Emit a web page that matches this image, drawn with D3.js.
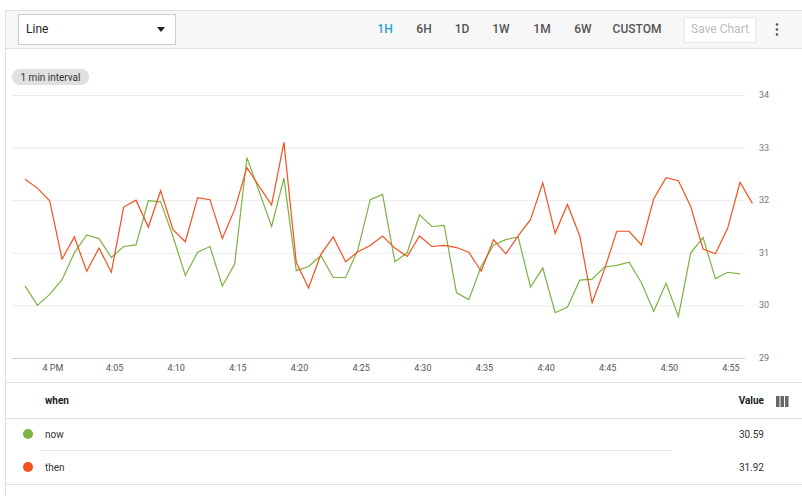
<!DOCTYPE html>
<html><head><meta charset="utf-8">
<script src="https://cdn.jsdelivr.net/npm/d3@7"></script>
<style>body{margin:0;background:#fff;font-family:Roboto,"Liberation Sans",sans-serif}</style>
</head><body><svg id="c" width="802" height="496"></svg>
<script>
const nowVals=[30.37,30.0,30.21,30.49,31.0,31.34,31.27,30.91,31.12,31.15,31.99,31.97,31.31,30.57,31.01,31.12,30.37,30.78,32.81,32.16,31.50,32.42,30.66,30.74,30.95,30.53,30.53,31.06,32.01,32.11,30.83,
31.0,31.72,31.50,31.52,30.24,30.11,30.74,31.15,31.25,31.30,30.35,30.71,29.86,29.97,30.48,30.50,30.73,30.76,30.82,30.43,29.89,30.42,29.79,31.0,31.29,30.51,30.63,30.60];
const thenVals=[32.40,32.23,31.99,30.88,31.30,30.65,31.09,30.63,31.87,32.0,31.49,32.18,31.44,31.21,32.05,32.01,31.27,31.82,32.62,32.26,31.91,33.10,30.82,30.33,30.97,31.30,30.83,31.02,31.14,31.32,31.09,
30.93,31.32,31.12,31.14,31.10,31.01,30.65,31.25,30.98,31.32,31.63,32.33,31.37,31.92,31.32,30.05,30.68,31.41,31.41,31.15,32.03,32.43,32.37,31.88,31.07,30.98,31.47,32.34,31.94];
const yTicks=[29,30,31,32,33,34];
const ranges=["1H","6H","1D","1W","1M","6W","CUSTOM"];
const seriesNames=["now","then"];
const lastVals=["30.59","31.92"];
const colors=["#7cb342","#f4511e"];
const t0=new Date(2020,0,1,15,57,44);
const timeAt=i=>new Date(+t0+i*60000);
const svg=d3.select("#c");
const txt="#333";
// frame
svg.append("rect").attr("x",5.5).attr("y",10.5).attr("width",800).attr("height",490).attr("fill","#fff").attr("stroke","#e0e0e0");
svg.append("rect").attr("x",6).attr("y",11).attr("width",796).attr("height",37).attr("fill","#f7f7f7");
svg.append("line").attr("x1",6).attr("x2",802).attr("y1",48.5).attr("y2",48.5).attr("stroke","#e0e0e0");
svg.append("rect").attr("x",18.5).attr("y",14.5).attr("width",157).attr("height",30).attr("fill","#fff").attr("stroke","#ccc");
svg.append("text").attr("x",26).attr("y",33).attr("font-size",12).attr("fill","#222").text("Line");
svg.append("path").attr("d","M157,27 L165,27 L161,32Z").attr("fill","#222");
const bx=[385,424,462,501,542,583,637];
ranges.forEach((r,i)=>svg.append("text").attr("x",bx[i]).attr("y",33).attr("text-anchor","middle").attr("font-size",12)
 .attr("font-weight",500).attr("fill",i==0?"#2a9fd6":"#555").text(r));
svg.append("rect").attr("x",684.5).attr("y",17.5).attr("width",71).attr("height",25).attr("fill","#fff").attr("stroke","#e8e8e8");
svg.append("text").attr("x",720).attr("y",33).attr("text-anchor","middle").attr("font-size",12).attr("fill","#bbb").text("Save Chart");
[24,29,34].forEach(y=>svg.append("circle").attr("cx",777).attr("cy",y+0.5).attr("r",1.3).attr("fill","#555"));
svg.append("rect").attr("x",12).attr("y",69).attr("width",77).attr("height",16).attr("rx",8).attr("fill","#e0e0e0");
svg.append("text").attr("x",50.5).attr("y",81).attr("text-anchor","middle").attr("font-size",10).attr("fill","#333").text("1 min interval");
// chart
const x=d3.scaleTime().domain([new Date(2020,0,1,16,0),new Date(2020,0,1,16,55)]).range([53,731]);
const y=d3.scaleLinear().domain([29,34]).range([358,95]);
const g=svg.append("g");
g.selectAll(".gl").data(yTicks).join("line").attr("x1",12).attr("x2",745).attr("y1",d=>y(d)+0.5).attr("y2",d=>y(d)+0.5)
 .attr("stroke",d=>d==29?"#ccc":"#ebebeb");
g.selectAll(".yl").data(yTicks).join("text").attr("x",764).attr("y",d=>y(d)+3).attr("text-anchor","middle").attr("font-size",9).attr("fill","#777").text(d=>d);
const xt=d3.range(0,60,5).map(m=>new Date(2020,0,1,16,m));
g.selectAll(".xl").data(xt).join("text").attr("x",d=>x(d)).attr("y",371).attr("text-anchor","middle").attr("font-size",9).attr("fill","#555")
 .text(d=>d.getMinutes()==0?"4 PM":d3.timeFormat("%-I:%M")(d));
const line=d3.line().x((d,i)=>x(timeAt(i))).y(d=>y(d));
[nowVals,thenVals].forEach((v,k)=>g.append("path").attr("d",line(v)).attr("fill","none").attr("stroke",colors[k]).attr("stroke-width",1.2));
// table
svg.append("line").attr("x1",6).attr("x2",802).attr("y1",382.5).attr("y2",382.5).attr("stroke","#e0e0e0");
svg.append("line").attr("x1",6).attr("x2",802).attr("y1",418.5).attr("y2",418.5).attr("stroke","#e0e0e0");
svg.append("text").attr("x",45).attr("y",404).attr("font-size",10).attr("font-weight",700).attr("fill","#222").text("when");
svg.append("text").attr("x",764).attr("y",404).attr("text-anchor","end").attr("font-size",10).attr("font-weight",700).attr("fill","#222").text("Value");
[0,1,2].forEach(i=>svg.append("rect").attr("x",776+i*4.5).attr("y",396).attr("width",3.5).attr("height",11).attr("fill","#666"));
seriesNames.forEach((n,i)=>{const cy=434+i*33;
 svg.append("circle").attr("cx",28).attr("cy",cy).attr("r",5).attr("fill",colors[i]);
 svg.append("text").attr("x",45).attr("y",cy+4).attr("font-size",10).attr("fill",txt).text(n);
 svg.append("text").attr("x",764).attr("y",cy+4).attr("text-anchor","end").attr("font-size",10).attr("fill",txt).text(lastVals[i]);});
svg.append("line").attr("x1",40).attr("x2",672).attr("y1",450.5).attr("y2",450.5).attr("stroke","#e6e6e6");
svg.append("line").attr("x1",6).attr("x2",802).attr("y1",484.5).attr("y2",484.5).attr("stroke","#e0e0e0");
</script></body></html>
